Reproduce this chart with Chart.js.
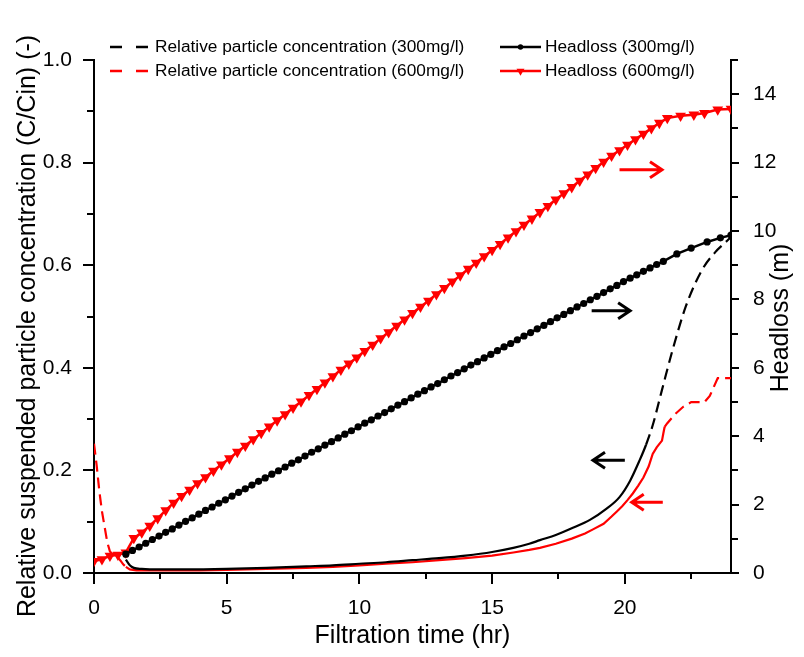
<!DOCTYPE html>
<html>
<head>
<meta charset="utf-8">
<script src="https://cdn.jsdelivr.net/npm/chart.js@4.4.1/dist/chart.umd.min.js"></script>
<style>
  html, body { margin: 0; padding: 0; background: #fff; }
</style>
</head>
<body>
<canvas id="my-graph" width="804" height="657"></canvas>
<script>
const FONT = "'Liberation Sans', Arial, sans-serif";

// relative particle concentration C/Cin (left axis)
const concTime300 = [1.2, 1.35, 1.5, 1.8, 2.5, 3.5, 5, 6.5, 8, 9, 10, 11, 12, 13, 14, 15, 15.8, 16.4, 16.8, 17.4, 18, 18.7, 19.3, 19.8, 20.2, 20.56, 20.8, 21.05, 21.4, 21.8, 22.3, 22.9, 23.4, 23.8, 24.0];
const conc300 = [0.026, 0.015, 0.010, 0.008, 0.007, 0.007, 0.008, 0.010, 0.013, 0.015, 0.018, 0.021, 0.025, 0.029, 0.034, 0.041, 0.049, 0.057, 0.064, 0.074, 0.087, 0.104, 0.125, 0.148, 0.180, 0.220, 0.250, 0.288, 0.357, 0.435, 0.520, 0.590, 0.625, 0.645, 0.655];

const concTime600 = [0.0, 0.1, 0.2, 0.3, 0.4, 0.5, 0.6, 0.75, 0.9, 1.0, 1.1, 1.2, 1.35, 1.6, 2.5, 4, 5, 6.5, 8, 9, 10, 11, 12, 13, 14, 15, 15.8, 16.4, 16.8, 17.4, 18, 18.5, 18.8, 19.2, 19.5, 19.7, 19.9, 20.1, 20.3, 20.5, 20.7, 20.9, 21.05, 21.2, 21.4, 21.45, 21.5, 21.6, 21.9, 22.2, 22.5, 23.0, 23.2, 23.5, 24.0];
const conc600 = [0.252, 0.210, 0.160, 0.120, 0.090, 0.060, 0.042, 0.034, 0.030, 0.024, 0.017, 0.012, 0.007, 0.005, 0.005, 0.005, 0.006, 0.008, 0.010, 0.012, 0.015, 0.018, 0.021, 0.025, 0.029, 0.034, 0.040, 0.045, 0.049, 0.057, 0.067, 0.077, 0.085, 0.096, 0.110, 0.120, 0.130, 0.142, 0.155, 0.170, 0.186, 0.208, 0.232, 0.245, 0.258, 0.272, 0.285, 0.292, 0.310, 0.324, 0.333, 0.333, 0.345, 0.380, 0.380];

// headloss in m (right axis)
const headTime300 = [1.2, 1.45, 1.7, 1.95, 2.2, 2.45, 2.7, 2.95, 3.2, 3.45, 3.7, 3.95, 4.2, 4.45, 4.7, 4.95, 5.2, 5.45, 5.7, 5.95, 6.2, 6.45, 6.7, 6.95, 7.2, 7.45, 7.7, 7.95, 8.2, 8.45, 8.7, 8.95, 9.2, 9.45, 9.7, 9.95, 10.2, 10.45, 10.7, 10.95, 11.2, 11.45, 11.7, 11.95, 12.2, 12.45, 12.7, 12.95, 13.2, 13.45, 13.7, 13.95, 14.2, 14.45, 14.7, 14.95, 15.2, 15.45, 15.7, 15.95, 16.2, 16.45, 16.7, 16.95, 17.2, 17.45, 17.7, 17.95, 18.2, 18.45, 18.7, 18.95, 19.2, 19.45, 19.7, 19.95, 20.2, 20.45, 20.7, 20.95, 21.2, 21.45, 21.96, 22.5, 23.1, 23.6, 24.0];
const head300 = [0.55, 0.66, 0.76, 0.87, 0.98, 1.08, 1.19, 1.29, 1.40, 1.51, 1.61, 1.72, 1.83, 1.93, 2.04, 2.14, 2.25, 2.36, 2.46, 2.57, 2.68, 2.78, 2.89, 2.99, 3.10, 3.21, 3.31, 3.42, 3.53, 3.63, 3.74, 3.84, 3.95, 4.06, 4.16, 4.27, 4.38, 4.48, 4.59, 4.69, 4.80, 4.91, 5.01, 5.12, 5.23, 5.33, 5.44, 5.54, 5.65, 5.76, 5.86, 5.97, 6.08, 6.18, 6.29, 6.39, 6.50, 6.61, 6.71, 6.82, 6.93, 7.03, 7.14, 7.24, 7.35, 7.46, 7.56, 7.67, 7.78, 7.88, 7.99, 8.09, 8.20, 8.31, 8.41, 8.52, 8.62, 8.72, 8.82, 8.92, 9.02, 9.11, 9.33, 9.50, 9.68, 9.80, 9.88];

const headTime600 = [0.0, 0.3, 0.6, 0.9, 1.2, 1.5, 1.8, 2.1, 2.4, 2.7, 3.0, 3.3, 3.6, 3.9, 4.2, 4.5, 4.8, 5.1, 5.4, 5.7, 6.0, 6.3, 6.6, 6.9, 7.2, 7.5, 7.8, 8.1, 8.4, 8.7, 9.0, 9.3, 9.6, 9.9, 10.2, 10.5, 10.8, 11.1, 11.4, 11.7, 12.0, 12.3, 12.6, 12.9, 13.2, 13.5, 13.8, 14.1, 14.4, 14.7, 15.0, 15.3, 15.6, 15.9, 16.2, 16.5, 16.8, 17.1, 17.4, 17.7, 18.0, 18.3, 18.6, 18.9, 19.2, 19.5, 19.8, 20.1, 20.4, 20.7, 21.0, 21.3, 21.6, 22.1, 22.6, 23.0, 23.5, 24.0];
const head600 = [0.35, 0.40, 0.50, 0.53, 0.60, 1.02, 1.18, 1.38, 1.60, 1.83, 2.05, 2.25, 2.43, 2.62, 2.80, 2.99, 3.17, 3.35, 3.54, 3.72, 3.91, 4.09, 4.28, 4.46, 4.64, 4.83, 5.01, 5.20, 5.38, 5.57, 5.75, 5.94, 6.12, 6.30, 6.49, 6.67, 6.86, 7.04, 7.23, 7.41, 7.60, 7.78, 7.96, 8.15, 8.33, 8.52, 8.70, 8.89, 9.07, 9.26, 9.44, 9.62, 9.81, 9.99, 10.18, 10.36, 10.55, 10.73, 10.92, 11.10, 11.28, 11.47, 11.65, 11.84, 12.02, 12.20, 12.36, 12.52, 12.68, 12.84, 13.00, 13.16, 13.30, 13.37, 13.40, 13.45, 13.55, 13.57];

const labels = [
  "Relative particle concentration (300mg/l)",
  "Relative particle concentration (600mg/l)",
  "Headloss (300mg/l)",
  "Headloss (600mg/l)",
];

const leftTitle = "Relative suspended particle concentration (C/Cin) (-)";
const rightTitle = "Headloss (m)";

const pairs = (xs, ys) => xs.map((x, i) => ({ x: x, y: ys[i] }));

// dashes only show where the curve is steep, like in the original plot
const solidBetween = (lo, hi) => (c) =>
  c.p0.parsed.x >= lo && c.p1.parsed.x <= hi ? [] : undefined;

// arrows that point each curve to its axis (x in hr, y in C/Cin units)
const arrows = [
  { from: 19.8, to: 21.4, y: 0.786, color: "#ff0000" },
  { from: 18.75, to: 20.2, y: 0.511, color: "#000000" },
  { from: 20.0, to: 18.8, y: 0.22, color: "#000000" },
  { from: 21.43, to: 20.26, y: 0.138, color: "#ff0000" },
];

const arrowPlugin = {
  id: "arrows",
  afterDatasetsDraw(chart) {
    const c = chart.ctx;
    const sx = chart.scales.x, sy = chart.scales.y;
    c.save();
    c.lineWidth = 3;
    c.lineCap = "butt";
    arrows.forEach((a) => {
      const x0 = sx.getPixelForValue(a.from);
      const x1 = sx.getPixelForValue(a.to);
      const y = sy.getPixelForValue(a.y);
      const dir = x1 > x0 ? 1 : -1;
      c.strokeStyle = a.color;
      c.beginPath();
      c.moveTo(x0, y);
      c.lineTo(x1, y);
      c.moveTo(x1 - dir * 12, y - 8);
      c.lineTo(x1, y);
      c.lineTo(x1 - dir * 12, y + 8);
      c.stroke();
    });
    c.restore();
  },
};

const axisDecor = {
  id: "axisDecor",
  afterDraw(chart) {
    const c = chart.ctx;
    const area = chart.chartArea;
    const { x, y, y1 } = chart.scales;
    c.save();
    c.strokeStyle = "#000";
    c.lineWidth = 2;
    x.ticks.forEach((t) => {
      const major = t.value % 5 === 0;
      const px = Math.round(x.getPixelForValue(t.value));
      c.beginPath();
      c.moveTo(px, area.bottom);
      c.lineTo(px, area.bottom + (major ? 11 : 6));
      c.stroke();
    });
    y.ticks.forEach((t) => {
      const major = Math.round(t.value * 10) % 2 === 0;
      const py = Math.round(y.getPixelForValue(t.value));
      c.beginPath();
      c.moveTo(area.left, py);
      c.lineTo(area.left - (major ? 11 : 7), py);
      c.stroke();
    });
    y1.ticks.forEach((t) => {
      const major = Math.round(t.value) % 2 === 0;
      const py = Math.round(y1.getPixelForValue(t.value));
      c.beginPath();
      c.moveTo(area.right, py);
      c.lineTo(area.right + (major ? 8 : 7), py);
      c.stroke();
    });

    // vertical titles, both reading bottom to top
    c.fillStyle = "#000";
    c.font = "25px " + FONT;
    c.textAlign = "center";
    c.textBaseline = "middle";
    c.save();
    c.translate(28, 326);
    c.rotate(-Math.PI / 2);
    c.fillText(leftTitle, 0, 0);
    c.restore();
    c.save();
    c.translate(781, 318);
    c.rotate(-Math.PI / 2);
    c.fillText(rightTitle, 0, 0);
    c.restore();

    // legend, two columns
    const spots = [
      { ds: 0, x: 110, y: 47, w: 39, gap: 6 },
      { ds: 1, x: 110, y: 71, w: 39, gap: 6 },
      { ds: 2, x: 500, y: 47, w: 41, gap: 4 },
      { ds: 3, x: 500, y: 71, w: 41, gap: 4 },
    ];
    c.font = "17.3px " + FONT;
    c.textAlign = "left";
    spots.forEach((s) => {
      const d = chart.data.datasets[s.ds];
      c.strokeStyle = d.borderColor;
      c.lineWidth = 2.5;
      c.setLineDash(d.pointRadius ? [] : [12, 14]);
      c.beginPath();
      c.moveTo(s.x, s.y);
      c.lineTo(s.x + s.w, s.y);
      c.stroke();
      c.setLineDash([]);
      if (d.pointRadius) {
        c.fillStyle = d.pointBackgroundColor;
        Chart.helpers.drawPoint(c, {
          pointStyle: d.pointStyle,
          rotation: d.pointRotation || 0,
          radius: d.pointRadius * 0.75,
          borderWidth: 0,
        }, s.x + s.w / 2, s.y);
      }
      c.fillStyle = "#000";
      c.fillText(d.label, s.x + s.w + s.gap, s.y);
    });
    c.restore();
  },
};

const ctx = document.getElementById("my-graph");

const chart = new Chart(ctx, {
  type: "line",
  data: {
    datasets: [
      {
        label: labels[0],
        data: pairs(concTime300, conc300),
        yAxisID: "y",
        borderColor: "#000000",
        borderWidth: 2.2,
        borderDash: [11, 6],
        pointRadius: 0,
        cubicInterpolationMode: "monotone",
        segment: { borderDash: solidBetween(0, 20.8) },
      },
      {
        label: labels[1],
        data: pairs(concTime600, conc600),
        yAxisID: "y",
        borderColor: "#ff0000",
        borderWidth: 2.2,
        borderDash: [11, 6],
        pointRadius: 0,
        segment: { borderDash: solidBetween(1.2, 21.5) },
      },
      {
        label: labels[2],
        data: pairs(headTime300, head300),
        yAxisID: "y1",
        borderColor: "#000000",
        borderWidth: 2.5,
        pointStyle: "circle",
        pointRadius: 3.6,
        pointBorderWidth: 0,
        pointBackgroundColor: "#000000",
      },
      {
        label: labels[3],
        data: pairs(headTime600, head600),
        yAxisID: "y1",
        borderColor: "#ff0000",
        borderWidth: 2.5,
        pointStyle: "triangle",
        pointRotation: 180,
        pointRadius: 6.2,
        pointBorderWidth: 0,
        pointBackgroundColor: "#ff0000",
      },
    ],
  },
  options: {
    responsive: false,
    animation: false,
    layout: { padding: { top: 60 } },
    plugins: {
      legend: { display: false },
      tooltip: { enabled: false },
    },
    scales: {
      x: {
        type: "linear",
        min: 0,
        max: 24,
        grid: { display: false },
        border: { display: true, color: "#000", width: 2 },
        ticks: {
          stepSize: 2.5,
          includeBounds: false,
          autoSkip: false,
          maxRotation: 0,
          padding: 15,
          color: "#000",
          font: { family: FONT, size: 21 },
          callback: (v) => (v % 5 === 0 ? String(v) : ""),
        },
        title: {
          display: true,
          text: "Filtration time (hr)",
          color: "#000",
          font: { family: FONT, size: 25 },
          padding: { top: 0, bottom: 6 },
        },
        afterFit(s) { s.height = 84; },
      },
      y: {
        position: "left",
        min: 0,
        max: 1,
        grid: { display: false },
        border: { display: true, color: "#000", width: 2 },
        ticks: {
          stepSize: 0.1,
          autoSkip: false,
          padding: 14,
          color: "#000",
          font: { family: FONT, size: 21 },
          callback: (v) => (Math.round(v * 10) % 2 === 0 ? v.toFixed(1) : ""),
        },
        afterFit(s) { s.width = 94; },
      },
      y1: {
        position: "right",
        min: 0,
        max: 15,
        grid: { display: false },
        border: { display: true, color: "#000", width: 2 },
        ticks: {
          stepSize: 1,
          autoSkip: false,
          padding: 14,
          color: "#000",
          font: { family: FONT, size: 21 },
          callback: (v) => (Math.round(v) % 2 === 0 ? String(v) : ""),
        },
        afterFit(s) { s.width = 73; },
      },
    },
  },
  plugins: [arrowPlugin, axisDecor],
});
</script>
</body>
</html>
